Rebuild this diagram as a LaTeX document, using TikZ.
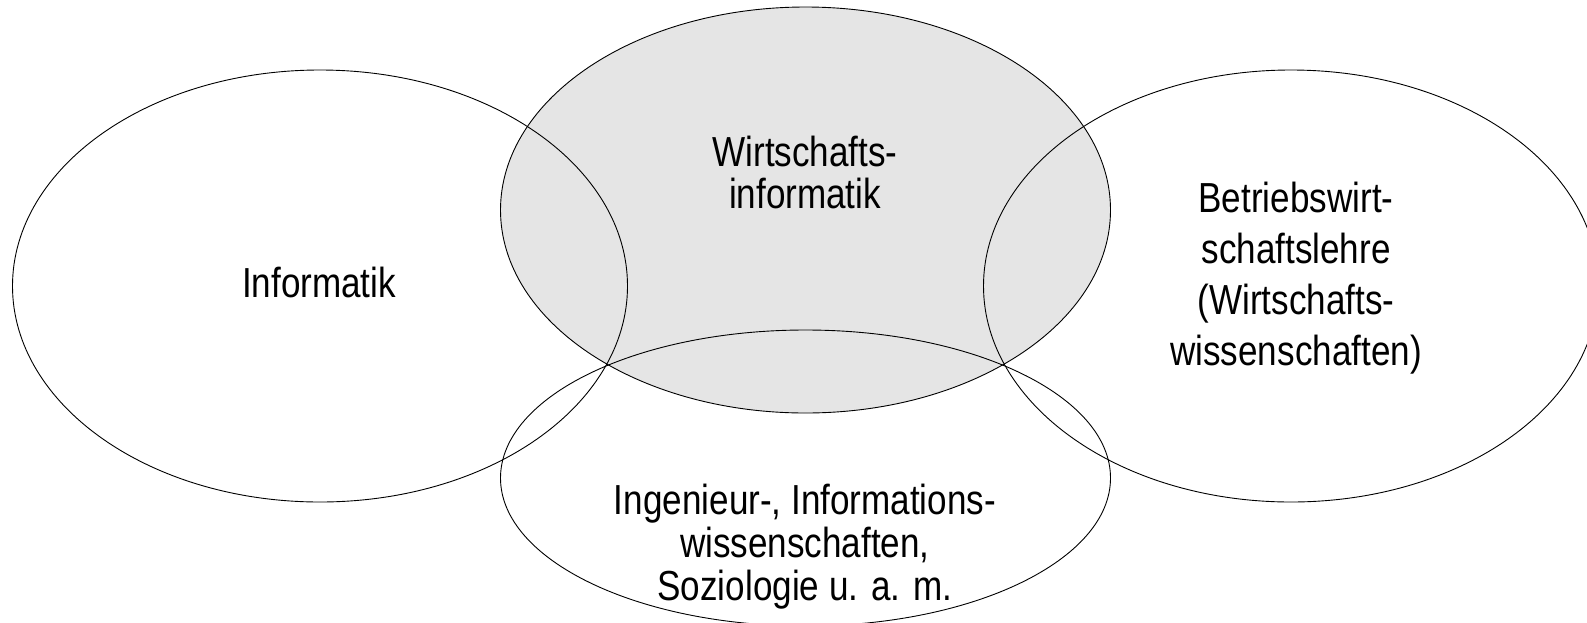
\documentclass[tikz,border=0pt]{standalone}
\usepackage{fontspec}
\setmainfont{Liberation Sans}[FakeStretch=0.835]
\usetikzlibrary{shapes.geometric}
\definecolor{wigray}{RGB}{229,229,229}
\tikzset{
  field/.style={ellipse, draw=black, line width=0.9pt, inner sep=0pt, outer sep=0pt},
  lbl/.style={align=center, inner sep=0pt, font=\fontsize{42}{42}\selectfont},
}
\begin{document}
\begin{tikzpicture}[x=1pt,y=-1pt]
\useasboundingbox (0,0) rectangle (1587,622);
% shaded centre field
\node[field, fill=wigray, minimum width=610pt, minimum height=406pt] (wi) at (805.5,210) {};
% outer fields
\node[field, minimum width=615pt, minimum height=432pt] (inf) at (320,286) {};
\node[field, minimum width=615pt, minimum height=432pt] (bwl) at (1291,286) {};
\node[field, minimum width=610pt, minimum height=296pt] (ing) at (805.5,478) {};
% labels
\node[lbl, anchor=base] (tinf) at (319,297.6) {Informatik};
\node[lbl] (twi) at (805,172) {Wirtschafts-\\informatik};
\node[lbl, font=\fontsize{42}{51}\selectfont] (tbwl) at (1296,278) {Betriebswirt-\\schaftslehre\\(Wirtschafts-\\wissenschaften)};
\node[lbl, font=\fontsize{42}{43}\selectfont] (ting) at (805,547) {Ingenieur-, Informations-\\wissenschaften,\\Soziologie u. a. m.};
\end{tikzpicture}
\end{document}
